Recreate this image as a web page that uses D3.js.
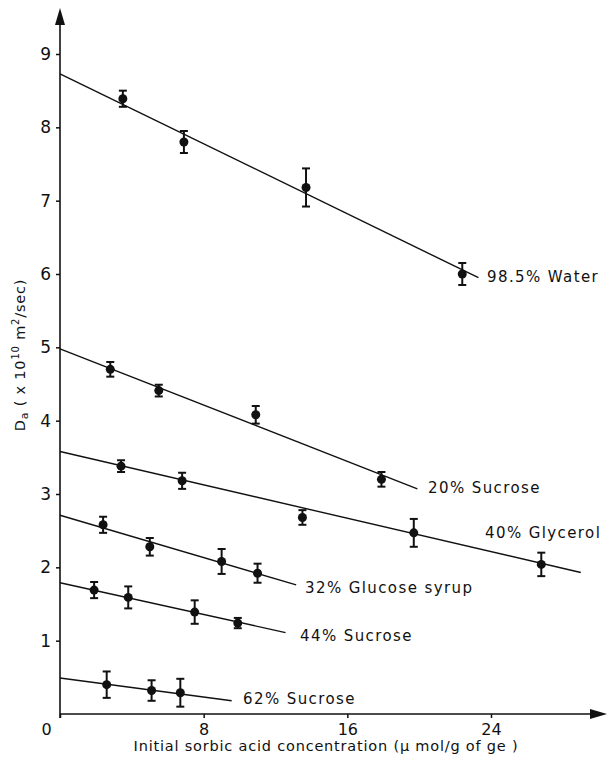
<!DOCTYPE html>
<html>
<head>
<meta charset="utf-8">
<script src="https://cdn.jsdelivr.net/npm/d3@7"></script>
<style>
  html, body { margin: 0; padding: 0; background: #fff; }
  svg { display: block; }
  text { font-family: "DejaVu Sans", "Liberation Sans", sans-serif; fill: #111; }
</style>
</head>
<body>
<svg id="chart" width="609" height="764"></svg>
<script>
// Series names as printed beside each fitted line
const seriesNames = ["98.5% Water", "20% Sucrose", "40% Glycerol", "32% Glucose syrup", "44% Sucrose", "62% Sucrose"];

// Measured points: initial sorbic acid concentration (µmol/g of gel)
const waterX = [3.5, 6.9, 13.7, 22.4];
const waterY = [8.39, 7.80, 7.18, 6.00];
const waterErr = [0.11, 0.15, 0.26, 0.15];

const sucrose20X = [2.8, 5.5, 10.9, 17.9];
const sucrose20Y = [4.70, 4.41, 4.08, 3.20];
const sucrose20Err = [0.10, 0.08, 0.12, 0.10];

const glycerol40X = [3.4, 6.8, 13.5, 19.7, 26.8];
const glycerol40Y = [3.38, 3.18, 2.68, 2.47, 2.04];
const glycerol40Err = [0.08, 0.11, 0.10, 0.19, 0.16];

const glucose32X = [2.4, 5.0, 9.0, 11.0];
const glucose32Y = [2.58, 2.28, 2.08, 1.92];
const glucose32Err = [0.11, 0.12, 0.17, 0.13];

const sucrose44X = [1.9, 3.8, 7.5, 9.9];
const sucrose44Y = [1.69, 1.59, 1.39, 1.24];
const sucrose44Err = [0.11, 0.15, 0.16, 0.07];

const sucrose62X = [2.6, 5.1, 6.7];
const sucrose62Y = [0.40, 0.32, 0.29];
const sucrose62Err = [0.18, 0.14, 0.19];

// Fitted lines: value at x = 0, then the end point [x, y]
const fitStart = [8.73, 4.98, 3.58, 2.71, 1.79, 0.49];
const fitEndX = [23.3, 19.9, 29.0, 13.15, 12.56, 9.56];
const fitEndY = [5.95, 3.07, 1.93, 1.76, 1.11, 0.18];

// Axis ticks
const xTicks = [0, 8, 16, 24];
const yTicks = [1, 2, 3, 4, 5, 6, 7, 8, 9];

const pointsX = [waterX, sucrose20X, glycerol40X, glucose32X, sucrose44X, sucrose62X];
const pointsY = [waterY, sucrose20Y, glycerol40Y, glucose32Y, sucrose44Y, sucrose62Y];
const pointsErr = [waterErr, sucrose20Err, glycerol40Err, glucose32Err, sucrose44Err, sucrose62Err];

// Label anchor positions (pixels) for each series name
const labelPos = [[487, 277], [428, 488], [485, 533], [305, 588], [300, 636], [243, 699]];

const svg = d3.select("#chart");
const x = d3.scaleLinear().domain([0, 24]).range([60, 491]);
const y = d3.scaleLinear().domain([0, 9]).range([714, 54]);

const ink = "#111";

// Axes with arrow heads
const axisG = svg.append("g");
axisG.append("line")
  .attr("x1", x(0)).attr("x2", 596).attr("y1", y(0)).attr("y2", y(0))
  .attr("stroke", ink).attr("stroke-width", 1.6);
axisG.append("path")
  .attr("d", `M607,${y(0)} L590,${y(0) - 5} L590,${y(0) + 5} Z`).attr("fill", ink);
axisG.append("line")
  .attr("x1", x(0)).attr("x2", x(0)).attr("y1", y(0) + 4).attr("y2", 20)
  .attr("stroke", ink).attr("stroke-width", 1.6);
axisG.append("path")
  .attr("d", `M${x(0)},8 L${x(0) - 5},25 L${x(0) + 5},25 Z`).attr("fill", ink);

// x ticks and labels
const xAxis = d3.axisBottom(x).tickValues(xTicks).tickSize(4).tickPadding(6).tickFormat(d3.format("d"));
const gx = svg.append("g").attr("transform", `translate(0,${y(0)})`).call(xAxis);
gx.select(".domain").remove();
gx.selectAll(".tick line").attr("stroke", ink).attr("stroke-width", 1.5);
gx.selectAll(".tick text").attr("font-size", 16).attr("font-family", "DejaVu Sans, sans-serif").attr("fill", ink);
gx.selectAll(".tick").filter(d => d === 0).select("text").attr("x", -14);

// y ticks and labels
const yAxis = d3.axisLeft(y).tickValues(yTicks).tickSize(4).tickPadding(5).tickFormat(d3.format("d"));
const gy = svg.append("g").attr("transform", `translate(${x(0)},0)`).call(yAxis);
gy.select(".domain").remove();
gy.selectAll(".tick line").attr("stroke", ink).attr("stroke-width", 1.5);
gy.selectAll(".tick text").attr("font-size", 17).attr("font-family", "DejaVu Sans, sans-serif").attr("fill", ink);

// Axis titles
svg.append("text")
  .attr("x", 326).attr("y", 751)
  .attr("text-anchor", "middle")
  .attr("font-size", 14.5).attr("letter-spacing", 0.8)
  .text("Initial sorbic acid concentration (\u03BC mol/g of ge )");

const yTitle = svg.append("text")
  .attr("transform", "translate(25,355) rotate(-90)")
  .attr("text-anchor", "middle")
  .attr("font-size", 14.5).attr("letter-spacing", 0.8);
yTitle.append("tspan").text("D");
yTitle.append("tspan").attr("font-size", 11).attr("dy", 3).text("a");
yTitle.append("tspan").attr("dy", -3).text(" ( x 10");
yTitle.append("tspan").attr("font-size", 10).attr("dy", -6).text("10");
yTitle.append("tspan").attr("dy", 6).text(" m");
yTitle.append("tspan").attr("font-size", 10).attr("dy", -6).text("2");
yTitle.append("tspan").attr("dy", 6).text("/sec)");

// Fitted lines, error bars, points and labels per series
seriesNames.forEach((name, i) => {
  const g = svg.append("g");
  g.append("line")
    .attr("x1", x(0)).attr("y1", y(fitStart[i]))
    .attr("x2", x(fitEndX[i])).attr("y2", y(fitEndY[i]))
    .attr("stroke", ink).attr("stroke-width", 1.4);

  const pts = pointsX[i].map((v, j) => ({ x: v, y: pointsY[i][j], e: pointsErr[i][j] }));
  const bar = g.selectAll(".err").data(pts).join("g").attr("class", "err");
  bar.append("line")
    .attr("x1", d => x(d.x)).attr("x2", d => x(d.x))
    .attr("y1", d => y(d.y + d.e)).attr("y2", d => y(d.y - d.e))
    .attr("stroke", ink).attr("stroke-width", 2);
  [1, -1].forEach(s => {
    bar.append("line")
      .attr("x1", d => x(d.x) - 4).attr("x2", d => x(d.x) + 4)
      .attr("y1", d => y(d.y + s * d.e)).attr("y2", d => y(d.y + s * d.e))
      .attr("stroke", ink).attr("stroke-width", 2);
  });
  g.selectAll(".pt").data(pts).join("circle").attr("class", "pt")
    .attr("cx", d => x(d.x)).attr("cy", d => y(d.y)).attr("r", 4.5)
    .attr("fill", ink);

  g.append("text")
    .attr("x", labelPos[i][0]).attr("y", labelPos[i][1])
    .attr("dominant-baseline", "middle")
    .attr("font-size", 15).attr("letter-spacing", 1.4)
    .text(name);
});
</script>
</body>
</html>
